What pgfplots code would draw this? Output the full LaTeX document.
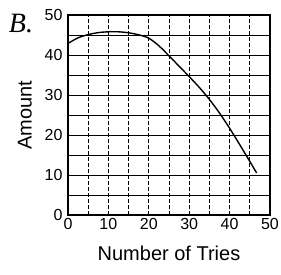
\documentclass[border=0pt]{standalone}
\usepackage{pgfplots}
\pgfplotsset{compat=1.18}
\usepackage{fontspec}
\setmainfont{Liberation Sans}
\newfontfamily\bfont{Liberation Serif}
\begin{document}
\begin{tikzpicture}[x=1pt,y=1pt]
\useasboundingbox (-68,-59) rectangle (213,215);
\begin{axis}[
  at={(0,0)}, anchor=south west,
  scale only axis, width=202pt, height=200pt,
  xmin=0, xmax=50, ymin=0, ymax=50,
  xtick={0,10,...,50}, ytick={0,10,...,50},
  minor xtick={5,15,...,45}, minor ytick={5,15,...,45},
  major tick length=0pt, minor tick length=0pt,
  grid=both,
  major x grid style={black, dash pattern=on 4pt off 2pt, line width=0.7pt},
  minor x grid style={black, dash pattern=on 4pt off 2pt, line width=0.7pt},
  major y grid style={black, line width=1pt},
  minor y grid style={black, line width=1pt},
  axis line style={black, line width=1.2pt},
  tick label style={font=\fontsize{16}{16}\selectfont},
  /pgf/number format/assume math mode=true,
  xlabel={Number of Tries}, ylabel={Amount},
  label style={font=\fontsize{20}{20}\selectfont},
  xlabel style={yshift=-9pt},
  ylabel style={yshift=6pt},
  yticklabel style={xshift=-2pt},
]
\addplot[black, line width=1.4pt, smooth] coordinates {
(0,42.9) (2.5,44.3) (5,45.1) (7.5,45.6) (10,45.8) (12.5,45.8) (15,45.55)
(17.5,45.05) (20,44.2) (22.5,42.3) (25,39.8) (27.5,37.2) (30,34.6)
(32.5,31.9) (35,28.9) (37.5,25.5) (40,21.7) (42.5,17.6) (45,13.4) (46.7,10.5)};
\end{axis}
\node[anchor=center, font=\bfont\itshape\fontsize{28}{28}\selectfont] at (-47,191) {B.};
\end{tikzpicture}
\end{document}
